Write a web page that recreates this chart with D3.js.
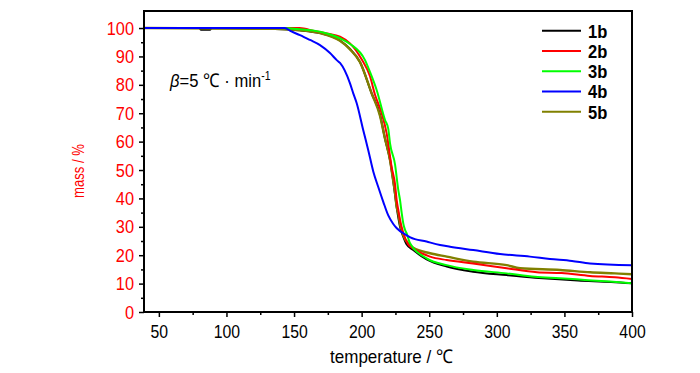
<!DOCTYPE html>
<html><head><meta charset="utf-8">
<script src="https://cdn.jsdelivr.net/npm/d3@7"></script>
<style>body{margin:0;background:#fff}svg{display:block}
text{font-family:'Liberation Sans',Arial,sans-serif}</style>
</head><body><svg id="c" width="700" height="373"></svg>
<script>
const seriesNames = ["1b","2b","3b","4b","5b"];
const seriesColors = ["#000000","#ff0000","#00ff00","#0000ff","#808000"];
const xTicks = [50,100,150,200,250,300,350,400];
const yTicks = [0,10,20,30,40,50,60,70,80,90,100];

const s1b = [[39,100],[80,100],[81,99.4],[88,99.4],[89,100],[136,99.7],[154.4,99.2],[169.2,98.2],[184,95.6],[191.4,92.6],[198.8,88],[207.4,77],[213.6,69.5],[217.3,61],[221,53.5],[223.4,46],[225.9,37],[228.4,30],[230.8,26.5],[233,24],[238.2,21.8],[248.1,18.5],[263,16],[282.4,14.2],[307.3,13],[328.2,12.1],[346,11.5],[360,11.1],[384.5,10.6],[400,10.1]];
const s2b = [[39,100],[154,100],[165.5,98.9],[174.2,98.1],[184,97],[191.4,94.6],[200,89],[206.2,83],[209.9,76.5],[214.8,70],[218.5,62.9],[222.2,51],[224.7,45],[225.9,39.4],[227.1,36],[228.4,32.4],[230.8,27.8],[234.3,23.9],[238,22.4],[250.6,19.5],[262.9,18.3],[282.4,17.1],[307.3,15.4],[329.7,14],[348,13.7],[368.9,12.7],[387.4,12.2],[400,11.6]];
const s3b = [[39,100],[139,100],[154.4,99.6],[169.2,98.7],[184,96.4],[191.4,94.4],[202.5,88.7],[206.2,84.5],[211.1,78.2],[217.3,67.6],[219.7,64.5],[221,59.4],[224.7,52],[227.1,43],[228.4,39.4],[229.6,35],[230.8,31.2],[232.1,28.9],[233.3,27.7],[235.8,24.2],[248.1,18.9],[262.9,16.5],[282.6,14.8],[307.3,13.6],[328.2,12.4],[346.7,11.9],[365.2,11.3],[383.7,10.7],[400,10.1]];
const s4b = [[39,100],[143,100],[148,98.8],[154.4,97.5],[161.8,95.8],[169.2,94],[176.6,91.2],[181.6,88.7],[184,87.7],[191.4,80.5],[193.8,77],[196.3,73.6],[201.2,64],[204.9,57],[208.6,49.5],[212.3,44],[216,38.8],[219.7,34],[223.4,31],[226,29.5],[233.3,27],[236,26.3],[248,24.8],[258,23.6],[265.4,23],[282.6,21.8],[302.4,20.4],[324.5,19.5],[339.3,18.7],[355.6,18],[368.9,17.1],[400,16.5]];
const s5b = [[39,100],[136,99.7],[154.4,99.2],[169.2,98.2],[184,95.5],[191.4,92.5],[198.8,88],[207.4,77],[213.6,69],[217.3,61],[221,53.5],[223.4,46],[224.7,42],[225.9,37],[227.1,34.8],[228.4,31],[229.6,28.9],[230.8,27],[235.8,23.6],[238.2,22.6],[250.6,20.7],[263,19.5],[282.6,17.7],[307.3,16.5],[317.2,15.4],[346.8,14.8],[369,14],[387.4,13.6],[400,13.3]];
const seriesData = [s1b,s2b,s3b,s4b,s5b];

const svg = d3.select("#c");
const L=144,R=632,T=11,B=312;
const x = d3.scaleLinear().domain([39,400]).range([L,R]);
const y = d3.scaleLinear().domain([0,106]).range([B,T]);

function condense(sel, f){
  sel.each(function(){
    const w = this.getComputedTextLength();
    this.setAttribute("textLength", (w*f).toFixed(2));
    this.setAttribute("lengthAdjust","spacingAndGlyphs");
  });
}

// minor ticks
const xMinor = d3.range(75,400,50);
const yMinor = d3.range(5,100,10);
svg.append("g").attr("transform",`translate(0,${B})`)
  .call(d3.axisBottom(x).tickValues(xMinor).tickSize(3).tickSizeOuter(0).tickFormat(""))
  .call(g=>g.select(".domain").remove())
  .selectAll("line").attr("stroke","#000").attr("stroke-width",1.5);
svg.append("g").attr("transform",`translate(${L},0)`)
  .call(d3.axisLeft(y).tickValues(yMinor).tickSize(3).tickSizeOuter(0).tickFormat(""))
  .call(g=>g.select(".domain").remove())
  .selectAll("line").attr("stroke","#000").attr("stroke-width",1.5);

const gx = svg.append("g").attr("transform",`translate(0,${B})`)
  .call(d3.axisBottom(x).tickValues(xTicks).tickSize(5).tickSizeOuter(0).tickPadding(7));
gx.select(".domain").remove();
gx.selectAll("line").attr("stroke","#000").attr("stroke-width",1.5);
gx.selectAll("text").attr("fill","#000").style("font-size","19px").attr("dy","0.76em");
condense(gx.selectAll("text"), 0.83);

const gy = svg.append("g").attr("transform",`translate(${L},0)`)
  .call(d3.axisLeft(y).tickValues(yTicks).tickSize(5).tickSizeOuter(0).tickPadding(5));
gy.select(".domain").remove();
gy.selectAll("line").attr("stroke","#000").attr("stroke-width",1.5);
gy.selectAll("text").attr("fill","#ff0000").style("font-size","19px");
condense(gy.selectAll("text"), 0.86);

// curves
const line = d3.line().x(d=>x(d[0])).y(d=>y(d[1])).curve(d3.curveMonotoneX);
const order = [0,4,1,2,3];
order.forEach(i=>{
  svg.append("path").datum(seriesData[i]).attr("d",line).attr("fill","none")
    .attr("stroke",seriesColors[i]).attr("stroke-width", i===4?2.4:2);
});

// frame
svg.append("rect").attr("x",L).attr("y",T).attr("width",R-L).attr("height",B-T)
  .attr("fill","none").attr("stroke","#000").attr("stroke-width",2);

// legend
const lg = svg.append("g");
seriesNames.forEach((n,i)=>{
  const yy = 30.7 + i*20.25;
  lg.append("line").attr("x1",542).attr("x2",581).attr("y1",yy).attr("y2",yy)
    .attr("stroke",seriesColors[i]).attr("stroke-width",2);
  const t = lg.append("text").attr("x",588).attr("y",yy+6.8).text(n)
    .style("font-size","19px").style("font-weight","bold").attr("fill","#000");
  condense(t, 0.87);
});

// annotation
const annG = svg.append("g");
const ann = annG.append("text").attr("x",0).attr("y",0).style("font-size","19px").attr("fill","#000");
ann.append("tspan").style("font-style","italic").text("β");
ann.append("tspan").text("=5 ℃ · min");
ann.append("tspan").attr("dy",-7).style("font-size","12px").text("-1");
const aw = ann.node().getBBox().width;
annG.attr("transform",`translate(170,87) scale(${101.5/aw},1)`);

// axis titles
const xt = svg.append("text").attr("x",391.5).attr("y",363).attr("text-anchor","middle")
  .style("font-size","19px").attr("fill","#000").text("temperature / ℃");
xt.attr("textLength",123).attr("lengthAdjust","spacingAndGlyphs");
const yt = svg.append("text").attr("transform","translate(84,171) rotate(-90)").attr("text-anchor","middle")
  .style("font-size","16px").attr("fill","#ff0000").text("mass / %");
yt.attr("textLength",54).attr("lengthAdjust","spacingAndGlyphs");
</script></body></html>
